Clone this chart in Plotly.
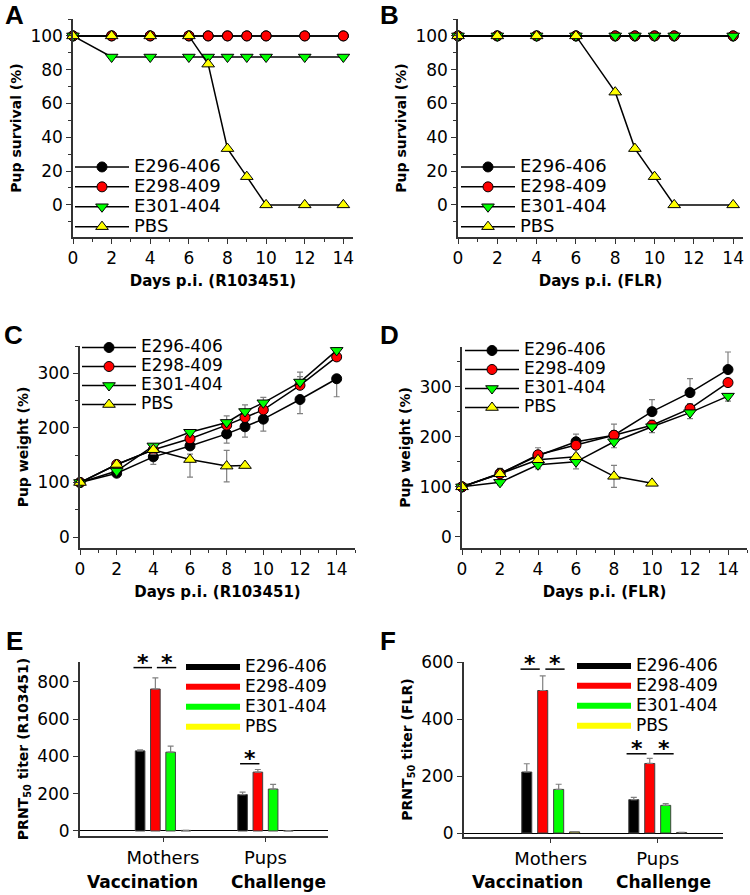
import plotly.graph_objects as go

W, H = 750, 895
FONT = "DejaVu Sans"

# ---------------- data ----------------
series = ["E296-406", "E298-409", "E301-404", "PBS"]

# A: survival, R103451
days_a = [0, 2, 4, 6, 7, 8, 9, 10, 12, 14]
surv_a_e296 = [100, 100, 100, 100, 100, 100, 100, 100, 100, 100]
surv_a_e298 = [100, 100, 100, 100, 100, 100, 100, 100, 100, 100]
surv_a_e301 = [100, 87.5, 87.5, 87.5, 87.5, 87.5, 87.5, 87.5, 87.5, 87.5]
surv_a_pbs = [100, 100, 100, 100, 83.3, 33.3, 16.7, 0, 0, 0]

# B: survival, FLR
days_b = [0, 2, 4, 6, 8, 9, 10, 11, 14]
surv_b_e296 = [100, 100, 100, 100, 100, 100, 100, 100, 100]
surv_b_e298 = [100, 100, 100, 100, 100, 100, 100, 100, 100]
surv_b_e301 = [100, 100, 100, 100, 100, 100, 100, 100, 100]
surv_b_pbs = [100, 100, 100, 100, 66.7, 33.3, 16.7, 0, 0]

# C: weight, R103451
days_c = [0, 2, 4, 6, 8, 9, 10, 12, 14]
days_c_pbs = [0, 2, 4, 6, 8, 9]
wt_c_e296 = [100, 117, 147, 167, 189, 202, 216, 252, 290]
wt_c_e296_up = [0, 0, 0, 0, 0, 0, 0, 0, 0]
wt_c_e296_dn = [0, 4, 14, 5, 17, 19, 22, 26, 33]
wt_c_e298 = [100, 133, 160, 180, 205, 219, 233, 278, 330]
wt_c_e298_up = [0, 4, 5, 5, 8, 9, 8, 24, 10]
wt_c_e298_dn = [0, 0, 0, 0, 0, 0, 0, 0, 0]
wt_c_e301 = [100, 121, 167, 192, 210, 230, 246, 284, 342]
wt_c_e301_up = [0, 3, 4, 4, 12, 12, 10, 10, 5]
wt_c_e301_dn = [0, 0, 0, 0, 0, 0, 0, 0, 0]
wt_c_pbs = [100, 133, 160, 142, 130, 131]
wt_c_pbs_up = [0, 4, 8, 10, 29, 0]
wt_c_pbs_dn = [0, 4, 8, 32, 29, 0]

# D: weight, FLR
days_d = [0, 2, 4, 6, 8, 10, 12, 14]
days_d_pbs = [0, 2, 4, 6, 8, 10]
wt_d_e296 = [100, 127, 162, 190, 203, 250, 288, 334]
wt_d_e296_up = [0, 10, 16, 15, 0, 24, 28, 35]
wt_d_e296_dn = [0, 0, 0, 0, 0, 0, 0, 0]
wt_d_e298 = [100, 126, 164, 183, 203, 223, 256, 308]
wt_d_e298_up = [0, 5, 8, 8, 22, 10, 10, 8]
wt_d_e298_dn = [0, 0, 0, 0, 0, 0, 0, 0]
wt_d_e301 = [100, 109, 144, 150, 190, 220, 248, 281]
wt_d_e301_up = [0, 0, 0, 0, 0, 0, 0, 0]
wt_d_e301_dn = [0, 5, 8, 14, 12, 12, 12, 10]
wt_d_pbs = [100, 126, 154, 160, 121, 107]
wt_d_pbs_up = [0, 5, 5, 5, 22, 0]
wt_d_pbs_dn = [0, 5, 5, 5, 22, 0]

# E / F: PRNT50 titers
groups = ["Mothers", "Pups"]
prnt_e = [[430, 195], [762, 316], [423, 225], [3, 2]]
prnt_e_err = [[5, 14], [60, 14], [32, 25], [0, 0]]
prnt_f = [[214, 117], [500, 244], [153, 97], [4, 2]]
prnt_f_err = [[29, 8], [51, 18], [18, 6], [0, 0]]

# significance brackets: (x0, x1, y) in category units / data units
sig_e = [(-0.288, -0.107, 877), (-0.06, 0.129, 877), (0.752, 0.941, 361)]
sig_f = [(-0.282, -0.102, 575), (-0.05, 0.13, 575), (0.709, 0.895, 278), (0.96, 1.149, 278)]

# ---------------- styles ----------------
colors = ["#000000", "#FF0000", "#00FF00", "#FFFF00"]
symbols = ["circle", "circle", "triangle-down", "triangle-up"]
msizes = [10, 10, 11, 11]
AX = "#333333"


def px_x(a, b):
    return [a / W, b / W]


def px_y(top, bottom):
    return [1 - bottom / H, 1 - top / H]


fig = go.Figure()


def add_lines(ax, leg, xs_list, ys_list, ups=None, dns=None, leg_size=18):
    for i, name in enumerate(series):
        err = None
        if ups is not None:
            err = dict(type="data", symmetric=False, array=ups[i], arrayminus=dns[i],
                       color="#808080", thickness=1.2, width=3)
        fig.add_trace(go.Scatter(
            x=xs_list[i], y=ys_list[i], mode="lines+markers",
            name=f"<span style='font-size:{leg_size}px'>{name}</span>",
            line=dict(color="black", width=1.5),
            marker=dict(symbol=symbols[i], size=msizes[i], color=colors[i],
                        line=dict(color="black", width=1)),
            error_y=err, xaxis="x" + ax, yaxis="y" + ax, legend=leg,
            cliponaxis=False,
        ))


add_lines("", "legend", [days_a] * 4, [surv_a_e296, surv_a_e298, surv_a_e301, surv_a_pbs])
add_lines("2", "legend2", [days_b] * 4, [surv_b_e296, surv_b_e298, surv_b_e301, surv_b_pbs])
add_lines("3", "legend3", [days_c, days_c, days_c, days_c_pbs],
          [wt_c_e296, wt_c_e298, wt_c_e301, wt_c_pbs],
          [wt_c_e296_up, wt_c_e298_up, wt_c_e301_up, wt_c_pbs_up],
          [wt_c_e296_dn, wt_c_e298_dn, wt_c_e301_dn, wt_c_pbs_dn], leg_size=17)
add_lines("4", "legend4", [days_d, days_d, days_d, days_d_pbs],
          [wt_d_e296, wt_d_e298, wt_d_e301, wt_d_pbs],
          [wt_d_e296_up, wt_d_e298_up, wt_d_e301_up, wt_d_pbs_up],
          [wt_d_e296_dn, wt_d_e298_dn, wt_d_e301_dn, wt_d_pbs_dn], leg_size=17)


def add_bars(ax, leg, vals, errs):
    for i, name in enumerate(series):
        fig.add_trace(go.Bar(
            x=groups, y=vals[i], name=name, showlegend=False,
            marker=dict(color=colors[i], line=dict(color="#404040", width=1)),
            error_y=dict(type="data", symmetric=False, array=errs[i],
                         arrayminus=[0] * len(errs[i]), color="#808080",
                         thickness=1.2, width=3),
            xaxis="x" + ax, yaxis="y" + ax,
        ))
    for i, name in enumerate(series):
        fig.add_trace(go.Scatter(
            x=[None], y=[None], mode="lines",
            name=f"<span style='font-size:17px'>{name}</span>",
            line=dict(color=colors[i], width=6),
            xaxis="x" + ax, yaxis="y" + ax, legend=leg,
        ))


add_bars("5", "legend5", prnt_e, prnt_e_err)
add_bars("6", "legend6", prnt_f, prnt_f_err)

tickfont = dict(family=FONT, size=17, color="black")
titlefont = dict(family=FONT, size=15, color="black", weight="bold")
ytitlefont = dict(family=FONT, size=14, color="black", weight="bold")

base = dict(showline=True, linecolor=AX, linewidth=1.5, ticks="outside", ticklen=5,
            tickcolor=AX, tickwidth=1.2, showgrid=False, zeroline=False,
            tickfont=tickfont, automargin=False)


def xday(dom, anchor, rng, title):
    d = dict(base)
    d.update(domain=dom, anchor=anchor, range=rng, dtick=2, tick0=0,
             minor=dict(dtick=1, ticks="outside", ticklen=3, tickcolor=AX),
             title=dict(text=title, font=titlefont, standoff=8))
    return d


def yax(dom, anchor, rng, dtick, minor, title):
    d = dict(base)
    d.update(domain=dom, anchor=anchor, range=rng, dtick=dtick, tick0=0,
             title=dict(text=title, font=ytitlefont, standoff=5))
    if minor:
        d["minor"] = dict(dtick=minor, ticks="outside", ticklen=3, tickcolor=AX)
    return d


def xbar(dom, anchor):
    d = dict(base)
    d.update(domain=dom, anchor=anchor, type="category", range=[-0.81, 1.61],
             linewidth=2, ticklen=4, tickfont=dict(family=FONT, size=18, color="black"))
    return d


def leg(x, ytop, fs=13):
    return dict(x=x / W, y=1 - ytop / H, xanchor="left", yanchor="top",
                bgcolor="rgba(0,0,0,0)", borderwidth=0, itemwidth=54,
                font=dict(family=FONT, size=fs, color="black"),
                tracegroupgap=0, itemclick=False)


fig.update_layout(
    width=W, height=H, margin=dict(l=0, r=0, t=0, b=0, autoexpand=False),
    paper_bgcolor="white", plot_bgcolor="white",
    font=dict(family=FONT, color="black"),
    barmode="group", bargap=0.404, bargroupgap=0.37,
    xaxis=xday(px_x(73, 353), "y", [0, 14.5], "Days p.i. (R103451)"),
    yaxis=yax(px_y(19, 237), "x", [-19, 110], 20, 10, "Pup survival (%)"),
    xaxis2=xday(px_x(458, 743), "y2", [0, 14.5], "Days p.i. (FLR)"),
    yaxis2=yax(px_y(19, 237), "x2", [-19, 110], 20, 10, "Pup survival (%)"),
    xaxis3=xday(px_x(80, 355), "y3", [0, 15], "Days p.i. (R103451)"),
    yaxis3=yax(px_y(346, 548), "x3", [-20, 350], 100, 50, "Pup weight (%)"),
    xaxis4=xday(px_x(462, 747), "y4", [0, 15], "Days p.i. (FLR)"),
    yaxis4=yax(px_y(347, 548), "x4", [-22, 379], 100, 50, "Pup weight (%)"),
    xaxis5=xbar(px_x(80, 328), "y5"),
    yaxis5=yax(px_y(662, 836), "x5", [-27, 907], 200, None, "PRNT<sub>50</sub> titer (R103451)"),
    xaxis6=xbar(px_x(464, 723), "y6"),
    yaxis6=yax(px_y(662, 837), "x6", [-14, 600], 200, None, "PRNT<sub>50</sub> titer (FLR)"),
    legend=leg(70, 152),
    legend2=leg(456, 152),
    legend3=leg(77, 333, 12),
    legend4=leg(460, 336, 12),
    legend5=leg(181, 652),
    legend6=leg(572, 651),
)
for k in ["yaxis5", "yaxis6"]:
    fig.layout[k].zeroline = True
    fig.layout[k].zerolinecolor = "black"
    fig.layout[k].zerolinewidth = 1
    fig.layout[k].linewidth = 2

shapes = []
annots = []
for (x0, x1, y), (xa, ya) in [(s, ("x5", "y5")) for s in sig_e] + [(s, ("x6", "y6")) for s in sig_f]:
    shapes.append(dict(type="line", xref=xa, yref=ya, x0=x0, x1=x1, y0=y, y1=y,
                       line=dict(color="black", width=1.5)))
    annots.append(dict(xref=xa, yref=ya, x=(x0 + x1) / 2, y=y, text="<b>*</b>",
                       showarrow=False, yanchor="bottom", yshift=-9,
                       font=dict(family=FONT, size=22, color="black")))

# group labels under the bar charts
for xa, xv, txt in [("x5", -0.2, "Vaccination"), ("x5", 1.13, "Challenge"),
                    ("x6", -0.216, "Vaccination"), ("x6", 1.05, "Challenge")]:
    annots.append(dict(xref=xa, yref="paper", x=xv, y=1 - 882 / H, text=f"<b>{txt}</b>",
                       showarrow=False, xanchor="center", yanchor="middle",
                       font=dict(family=FONT, size=17, color="black")))

# panel letters
for letter, x, y in [("A", 14, 15), ("B", 389, 15), ("C", 13, 335), ("D", 389, 335),
                     ("E", 14, 641), ("F", 388, 641)]:
    annots.append(dict(xref="paper", yref="paper", x=x / W, y=1 - y / H, text=f"<b>{letter}</b>",
                       showarrow=False, xanchor="center", yanchor="middle",
                       font=dict(family="Liberation Sans", size=26, color="black")))

fig.update_layout(shapes=shapes, annotations=annots)
fig.write_html("out.html", config={"displayModeBar": False},
               post_script="document.body.style.margin='0px';")
